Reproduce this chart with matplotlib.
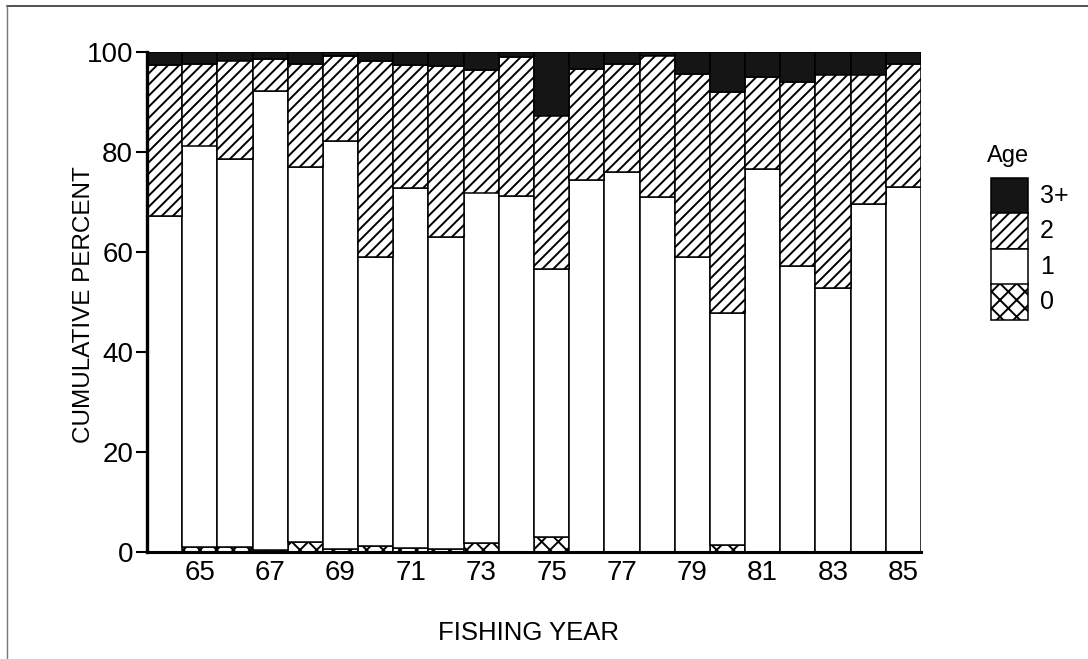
import matplotlib
matplotlib.use("Agg")
import matplotlib.pyplot as plt
from matplotlib.patches import Rectangle
from matplotlib.lines import Line2D

plt.rcParams['font.family'] = ['Liberation Sans', 'DejaVu Sans']
plt.rcParams['hatch.linewidth'] = 1.4

# fishing years (19xx) and percent of catch by age
years = list(range(64, 86))
age0 = [0.0, 1.0, 1.0, 0.5, 2.0, 0.7, 1.3, 0.8, 0.6, 1.8, 0.0,
        3.0, 0.0, 0.0, 0.0, 0.0, 1.5, 0.0, 0.0, 0.0, 0.0, 0.0]
age1 = [67.2, 80.3, 77.5, 91.7, 75.0, 81.4, 57.7, 71.9, 62.3, 70.1, 71.2,
        53.5, 74.3, 75.9, 71.0, 59.0, 46.4, 76.5, 57.1, 52.7, 69.5, 72.9]
age2 = [30.2, 16.4, 19.8, 6.4, 20.6, 17.0, 39.2, 24.6, 34.3, 24.5, 27.7,
        30.8, 22.3, 21.7, 28.3, 36.6, 44.0, 18.4, 36.8, 42.8, 26.0, 24.7]
age3 = [2.6, 2.3, 1.7, 1.4, 2.4, 0.9, 1.8, 2.7, 2.8, 3.6, 1.1,
        12.7, 3.4, 2.4, 0.7, 4.4, 8.1, 5.1, 6.1, 4.5, 4.5, 2.4]

xtick_years = [65, 67, 69, 71, 73, 75, 77, 79, 81, 83, 85]
yticks = [0, 20, 40, 60, 80, 100]
legend_labels = ['3+', '2', '1', '0']

styles = {
    '0': dict(facecolor='white', hatch='xx'),
    '1': dict(facecolor='white', hatch=None),
    '2': dict(facecolor='white', hatch='///'),
    '3+': dict(facecolor='#151515', hatch=None),
}

fig = plt.figure(figsize=(10.88, 6.59), dpi=100)
ax = fig.add_axes([147 / 1088, 107 / 659, 774 / 1088, 500 / 659])

bottom = [0.0] * len(years)
for name, vals in [('0', age0), ('1', age1), ('2', age2), ('3+', age3)]:
    ax.bar(years, vals, bottom=bottom, width=1.0, edgecolor='black',
           linewidth=1.1, **styles[name])
    bottom = [b + v for b, v in zip(bottom, vals)]

ax.set_xlim(63.5, 85.5)
ax.set_ylim(0, 100)
ax.set_xticks(xtick_years)
ax.set_xticklabels([str(y) for y in xtick_years])
ax.set_yticks(yticks)
ax.tick_params(axis='x', length=0, pad=6, labelsize=20)
ax.tick_params(axis='y', length=8, width=1.5, pad=2, labelsize=20)
for s in ['top', 'right']:
    ax.spines[s].set_visible(False)
ax.spines['left'].set_linewidth(2.4)
ax.spines['bottom'].set_linewidth(2.2)

fig.text(84 / 1088, 1 - 305 / 659, 'CUMULATIVE PERCENT', rotation=90,
         ha='center', va='center', fontsize=17.5)
fig.text(528 / 1088, 1 - 633 / 659, 'FISHING YEAR', ha='center',
         va='center', fontsize=18.5)

# legend drawn as stacked boxes
fig.text(1008 / 1088, 1 - 156 / 659, 'Age', ha='center', va='center',
         fontsize=17)
box_w = 37 / 1088
box_h = 35.5 / 659
top = 1 - 178 / 659
for i, lab in enumerate(legend_labels):
    y0 = top - (i + 1) * box_h
    fig.patches.append(Rectangle((991 / 1088, y0), box_w, box_h,
                                 transform=fig.transFigure, edgecolor='black',
                                 linewidth=1.1, **styles[lab]))
    fig.text(1040 / 1088, y0 + box_h / 2, lab, ha='left', va='center',
             fontsize=18)

# outer frame lines
fig.add_artist(Line2D([7 / 1088, 1.0], [1 - 6 / 659, 1 - 6 / 659],
                      transform=fig.transFigure, color='#333333', lw=1.2))
fig.add_artist(Line2D([7 / 1088, 7 / 1088], [0.0, 1 - 6 / 659],
                      transform=fig.transFigure, color='#777777', lw=1.0))

fig.savefig('out.png', dpi=100)
